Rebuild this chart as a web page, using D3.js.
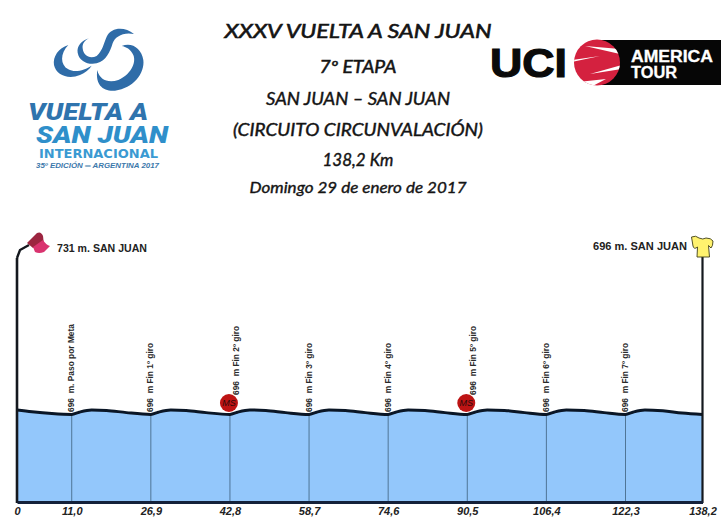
<!DOCTYPE html>
<html><head><meta charset="utf-8">
<script src="https://cdn.jsdelivr.net/npm/d3@7"></script>
<style>html,body{margin:0;padding:0;background:#fff}svg{display:block}</style>
</head><body>
<svg id="c" width="721" height="523"></svg>
<script>
// Profile (km, metres)
const profileKm = [0,3,7,11,12.5,15,18,22,26.9,28.4,30.9,34,38,42.8,44.3,46.8,50,54,58.7,60.2,62.7,66,70,74.6,76.1,78.6,82,86,90.5,92,94.5,98,102,106.4,107.9,110.4,114,118,122.3,123.8,126.3,130,134,138.2];
const profileM  = [697,696.6,696.2,696,696.5,697,696.9,696.4,696,696.5,697,696.9,696.4,696,696.5,697,696.9,696.4,696,696.5,697,696.9,696.4,696,696.5,697,696.9,696.4,696,696.5,697,696.9,696.4,696,696.5,697,696.9,696.4,696,696.5,697,696.8,696.3,696];
const tickKm = [0,11,26.9,42.8,58.7,74.6,90.5,106.4,122.3,138.2];
const tickLabels = ["0","11,0","26,9","42,8","58,7","74,6","90,5","106,4","122,3","138,2"];
const pointKm = [11,26.9,42.8,58.7,74.6,90.5,106.4,122.3];
const pointLabels = ["696  m. Paso por Meta","696  m Fin 1º giro","696  m Fin 2º giro","696  m Fin 3º giro","696  m Fin 4º giro","696  m Fin 5º giro","696  m Fin 6º giro","696  m Fin 7º giro"];
const sprintKm = [42.8,90.5];
const startElev = 731, endElev = 696;
const startLabel = "731 m. SAN JUAN", endLabel = "696 m. SAN JUAN";
const titleLines = ["XXXV VUELTA A SAN JUAN","7º ETAPA","SAN JUAN – SAN JUAN","(CIRCUITO CIRCUNVALACIÓN)","138,2 Km","Domingo 29 de enero de 2017"];

const svg = d3.select("#c");
const x = d3.scaleLinear().domain([0,122.3,138.2]).range([17,625.5,702.5]);
const y = d3.scaleLinear().domain([676.4,731]).range([502,258]);

// Title block
const titleStyle = [
 {y:38,w:267,s:20,sw:0.6},{y:73,w:77,s:17,sw:0.5},{y:105,w:184,s:16.5,sw:0.4},
 {y:136,w:250,s:16.5,sw:0.4},{y:166,w:71,s:17,sw:0.4},{y:193,w:217,s:14.5,sw:0.35}];
svg.append("g").selectAll("text").data(titleLines).join("text")
 .attr("x",358).attr("y",(d,i)=>titleStyle[i].y).attr("text-anchor","middle")
 .attr("textLength",(d,i)=>titleStyle[i].w).attr("lengthAdjust","spacingAndGlyphs")
 .style("font",(d,i)=>`italic 400 ${titleStyle[i].s}px Lato`).style("fill","#141414")
 .style("stroke","#141414").style("stroke-width",(d,i)=>titleStyle[i].sw).text(d=>d);

// Race logo
const lg = svg.append("g").attr("transform","translate(40,20) scale(0.3333)").attr("fill","#2f6ca8");
["M282,42 C255,20 215,20 200,50 C190,72 190,88 170,108 C150,118 130,108 128,85 C126,72 135,60 147,55 C125,62 110,78 113,98 C118,125 145,135 170,130 C200,122 210,95 218,70 C224,50 250,35 282,42Z",
 "M85,75 C55,85 38,110 42,135 C48,165 85,180 120,165 C135,158 148,148 155,137 C135,150 105,160 85,148 C60,135 60,100 85,75Z",
 "M245,78 C275,65 305,85 310,120 C315,160 280,205 225,212 C190,215 165,195 172,150 C178,180 205,190 235,180 C270,165 290,130 280,105 C272,88 258,80 245,78Z"
].forEach(d=>lg.append("path").attr("d",d));
const logoText=[
 {t:"VUELTA A",x:28,y:120,w:120,s:24,c:"#2f74ae",f:"italic 900",fam:"Roboto"},
 {t:"SAN JUAN",x:36,y:143,w:132,s:24,c:"#2f8fca",f:"italic 900",fam:"Roboto"},
 {t:"INTERNACIONAL",x:39,y:158,w:119,s:12,c:"#3a9ad2",f:"700",fam:"'DejaVu Sans'"},
 {t:"35º EDICIÓN ═ ARGENTINA 2017",x:36,y:168,w:123,s:6.8,c:"#3b78ab",f:"italic 700"}];
svg.append("g").selectAll("text").data(logoText).join("text")
 .attr("x",d=>d.x).attr("y",d=>d.y).attr("textLength",d=>d.w).attr("lengthAdjust","spacingAndGlyphs")
 .style("font",d=>`${d.f} ${d.s}px ${d.fam||"'Liberation Sans'"}`).style("fill",d=>d.c).text(d=>d.t);

// UCI logo
svg.append("rect").attr("x",598).attr("y",40).attr("width",123).attr("height",45).attr("fill","#060606");
svg.append("text").attr("x",490).attr("y",77).attr("textLength",77).attr("lengthAdjust","spacingAndGlyphs")
 .style("font","700 40px 'Liberation Sans'").style("fill","#0a0a0a").style("stroke","#0a0a0a").style("stroke-width",1.2).text("UCI");
const defs=svg.append("defs");
defs.append("clipPath").attr("id","sph").append("circle").attr("cx",597).attr("cy",62.5).attr("r",23);
const sp=svg.append("g").attr("clip-path","url(#sph)");
sp.append("rect").attr("x",570).attr("y",38).attr("width",55).attr("height",50).attr("fill","#d4213f");
[[ [585,46],[620,49],[620,54] ],[ [572,60],[600,56],[572,62] ],[ [590,74],[622,65],[622,69] ],[ [578,82],[606,79],[585,90] ]].forEach(p=>
 sp.append("polygon").attr("points",p.join(" ")).attr("fill","#fff"));
svg.append("text").attr("x",631).attr("y",62).attr("textLength",82).attr("lengthAdjust","spacingAndGlyphs")
 .style("font","700 16px 'Liberation Sans'").style("fill","#fff").style("stroke","#fff").style("stroke-width",0.3).text("AMERICA");
svg.append("text").attr("x",631).attr("y",78).attr("textLength",46).attr("lengthAdjust","spacingAndGlyphs")
 .style("font","700 16px 'Liberation Sans'").style("fill","#fff").style("stroke","#fff").style("stroke-width",0.3).text("TOUR");

// Profile
const pts = profileKm.map((k,i)=>[k,profileM[i]]);
const base = y.domain()[0];
svg.append("path").datum(pts).attr("fill","#93c7fb")
 .attr("d",d3.area().x(d=>x(d[0])).y0(y(base)).y1(d=>y(d[1])).curve(d3.curveMonotoneX));
svg.append("g").selectAll("line").data(pointKm).join("line")
 .attr("x1",d=>x(d)).attr("x2",d=>x(d)).attr("y1",y(base)).attr("y2",y(endElev))
 .attr("stroke","#4f7596").attr("stroke-width",1);
svg.append("path").datum(pts).attr("fill","none").attr("stroke","#0a1626").attr("stroke-width",3)
 .attr("d",d3.line().x(d=>x(d[0])).y(d=>y(d[1])).curve(d3.curveMonotoneX));
// frame: posts and base
const frame="#14181e";
svg.append("line").attr("x1",x(0)).attr("x2",x(0)).attr("y1",y(base)+1).attr("y2",y(startElev)).attr("stroke",frame).attr("stroke-width",2.6);
svg.append("line").attr("x1",x(138.2)).attr("x2",x(138.2)).attr("y1",y(base)+1).attr("y2",y(startElev)-2).attr("stroke",frame).attr("stroke-width",2.2);

// Axis
const axis = d3.axisBottom(x).tickValues(tickKm).tickSize(0).tickPadding(5).tickFormat((d,i)=>tickLabels[i]);
const ag = svg.append("g").attr("transform",`translate(0,${y(base)})`).call(axis);
ag.select(".domain").attr("stroke","#14213a").attr("stroke-width",3);
ag.selectAll("text").style("font","italic 700 11px 'Liberation Sans'").style("fill","#222");

// Rotated point labels
const sprintSet = new Set(sprintKm);
svg.append("g").selectAll("text").data(pointKm).join("text")
 .attr("transform",d=>`translate(${x(d)+(sprintSet.has(d)?6:-0.5)},${sprintSet.has(d)?395:412}) rotate(-90)`)
 .attr("dy","0.35em")
 .style("font","700 8.4px 'Liberation Sans'").style("white-space","pre").style("fill","#2a2a2a")
 .text((d,i)=>pointLabels[i]);

// Sprint markers
const sg = svg.append("g").selectAll("g").data(sprintKm).join("g").attr("transform",d=>`translate(${x(d)-1},403)`);
sg.append("circle").attr("r",9).attr("fill","#bd1414");
sg.append("text").attr("text-anchor","middle").attr("dy","0.35em").style("font","italic 400 9px 'Liberation Sans'").style("fill","#2a0a0a").text("MS");

// Start flag
svg.append("polyline").attr("points",[[x(0),y(startElev)],[20,250],[29,245]].join(" ")).attr("fill","none").attr("stroke",frame).attr("stroke-width",2.4);
svg.append("path").attr("d","M27,243 L37,233 Q41,231 43,236 L44,245 L33,248 Z").attr("fill","#9c2540");
svg.append("path").attr("d","M33,247 L43,240 Q46,245 50,246 L44,252 Q39,254 35,252 Z").attr("fill","#d9336f");

// End jersey
svg.append("path").attr("d","M691.5,237 Q696,235 699,238 Q703,240 706,238 Q711,238 713,241 Q713,246 711,248 L708.5,245.5 L709.5,257 L697,257 L697.5,247 Q694,250 693,246 Z")
 .attr("fill","#fff26e").attr("stroke","#3e3e18").attr("stroke-width",0.9).attr("stroke-linejoin","round");

// End labels
svg.append("text").attr("x",57).attr("y",252).attr("textLength",90).attr("lengthAdjust","spacingAndGlyphs").style("font","700 10.5px 'Liberation Sans'").style("fill","#222").text(startLabel);
svg.append("text").attr("x",593).attr("y",250).attr("textLength",94).attr("lengthAdjust","spacingAndGlyphs").style("font","700 10.5px 'Liberation Sans'").style("fill","#222").text(endLabel);
</script>
</body></html>
